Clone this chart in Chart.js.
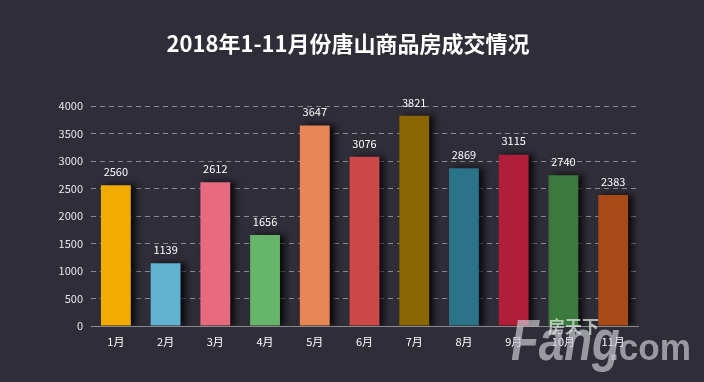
<!DOCTYPE html>
<html><head><meta charset="utf-8">
<script src="https://cdn.jsdelivr.net/npm/chart.js@4/dist/chart.umd.min.js"></script>
<style>html,body{margin:0;padding:0;background:#2e2d38;}#wrap{width:704px;height:382px;position:relative;}</style>
</head><body><div id="wrap"><canvas id="c" width="704" height="382"></canvas></div>
<script>
const categories = ["1月","2月","3月","4月","5月","6月","7月","8月","9月","10月","11月"];
const values = [2560,1139,2612,1656,3647,3076,3821,2869,3115,2740,2383];
const barColors = ["#f0ad00","#62b3cf","#e86a7e","#66b56a","#e88754","#cc4848","#8b6500","#2b7389","#b01e38","#3a7a3e","#a84a18"];
const yTicks = [0,500,1000,1500,2000,2500,3000,3500,4000];
const titleText = "2018年1-11月份唐山商品房成交情况";
const FONT = "'Noto Sans CJK SC','Noto Sans',sans-serif";

const bgPlugin = {id:'bg', beforeDraw(c){const x=c.ctx;x.save();x.fillStyle='#2e2d38';x.fillRect(0,0,c.width,c.height);x.restore();}};
const shadowPlugin = {id:'shadow',
  beforeDatasetsDraw(c){const x=c.ctx;x.save();x.shadowColor='rgba(0,0,0,0.75)';x.shadowOffsetX=5;x.shadowOffsetY=0;x.shadowBlur=6;},
  afterDatasetsDraw(c){c.ctx.restore();}};
const labelPlugin = {id:'labels', afterDatasetsDraw(c){
  const x=c.ctx; const meta=c.getDatasetMeta(0);
  x.save(); x.fillStyle='#ffffff'; x.font='11px '+FONT; x.textAlign='center'; x.textBaseline='bottom';
  meta.data.forEach((b,i)=>{x.fillText(String(values[i]), b.x, b.y-8);});
  x.restore();
}};
const titlePlugin = {id:'ttl', afterDraw(c){
  const x=c.ctx; x.save(); x.fillStyle='#ffffff'; x.font='bold 22px '+FONT; x.textAlign='center'; x.textBaseline='middle';
  x.fillText(titleText, 348, 44);
  // watermark
  x.fillStyle='rgba(200,200,205,0.7)';
  x.textAlign='left'; x.textBaseline='alphabetic';
  x.save(); x.translate(511,360); x.scale(0.8,1);
  x.font='bold italic 57px Arial, "Liberation Sans", sans-serif'; x.fillText('Fang',0,0); x.restore();
  x.save(); x.translate(609,360); x.scale(0.95,1);
  x.font='bold 37px Arial, "Liberation Sans", sans-serif'; x.fillText('.com',0,0); x.restore();
  x.fillStyle='rgba(220,230,220,0.75)';
  x.font='bold 17px '+FONT; x.fillText('房天下', 548, 333);
  x.restore();
}};

new Chart(document.getElementById('c'), {
  type:'bar',
  data:{labels:categories, datasets:[{data:values, backgroundColor:barColors, borderWidth:0, barPercentage:0.6, categoryPercentage:1.0}]},
  options:{
    responsive:false, animation:false, devicePixelRatio:1,
    layout:{padding:{top:106, right:66, bottom:0, left:0}},
    plugins:{legend:{display:false}, tooltip:{enabled:false}, title:{display:false}},
    scales:{
      x:{
        grid:{display:false, drawTicks:false},
        border:{display:true, color:'#8a8a8a', width:1},
        ticks:{color:'#ffffff', font:{size:11, family:FONT}, padding:9},
        afterFit(s){s.height=56;}
      },
      y:{
        min:0, max:4000,
        afterBuildTicks(s){s.ticks=yTicks.map(v=>({value:v}));},
        grid:{color:'rgba(170,170,170,0.75)', drawTicks:false, lineWidth:1},
        border:{display:false, dash:[5,4]},
        ticks:{color:'#e8e8e8', font:{size:11, family:FONT}, padding:8, callback:(v)=>String(v)},
        afterFit(s){s.width=91;}
      }
    }
  },
  plugins:[bgPlugin, shadowPlugin, labelPlugin, titlePlugin]
});
</script></body></html>
